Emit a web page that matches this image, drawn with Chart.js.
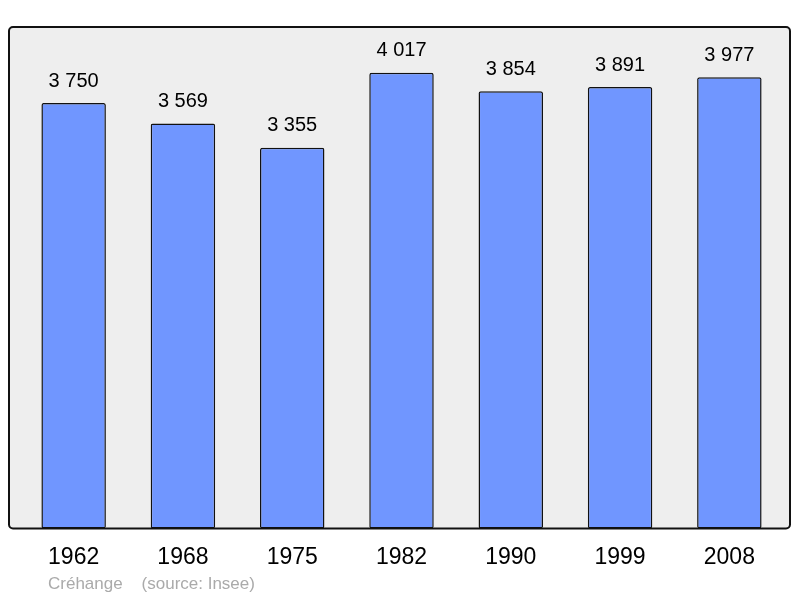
<!DOCTYPE html>
<html>
<head>
<meta charset="utf-8">
<script src="https://cdn.jsdelivr.net/npm/chart.js@4/dist/chart.umd.min.js"></script>
<style>
  html, body { margin: 0; padding: 0; background: #ffffff; }
  #wrap { width: 800px; height: 598px; }
</style>
</head>
<body>
<div id="wrap"><canvas id="popChart" width="800" height="598"></canvas></div>
<script>
// Population data (source: Insee)
const years = ['1962', '1968', '1975', '1982', '1990', '1999', '2008'];
const population = [3750, 3569, 3355, 4017, 3854, 3891, 3977];
const yMax = 4420;
const footerText = 'Créhange    (source: Insee)';

function formatNumber(n) {
    return String(n).replace(/\B(?=(\d{3})+(?!\d))/g, ' ');
}

// Gray rounded frame behind the bars
const framePlugin = {
    id: 'frame',
    beforeDatasetsDraw(chart) {
        const { ctx, chartArea } = chart;
        const x = chartArea.left - 10, y = chartArea.top;
        const w = chartArea.right - chartArea.left + 16, h = chartArea.bottom - chartArea.top;
        ctx.save();
        ctx.beginPath();
        ctx.roundRect(x, y, w, h, 4);
        ctx.fillStyle = '#eeeeee';
        ctx.fill();
        ctx.restore();
    },
    afterDatasetsDraw(chart) {
        const { ctx, chartArea } = chart;
        const x = chartArea.left - 10, y = chartArea.top;
        const w = chartArea.right - chartArea.left + 16, h = chartArea.bottom - chartArea.top;
        ctx.save();
        ctx.beginPath();
        ctx.roundRect(x, y, w, h, 4);
        ctx.lineWidth = 2;
        ctx.strokeStyle = '#111111';
        ctx.stroke();

        // value labels above bars
        const meta = chart.getDatasetMeta(0);
        ctx.font = '20px "Liberation Sans", Arial, sans-serif';
        ctx.fillStyle = '#000000';
        ctx.textAlign = 'center';
        ctx.textBaseline = 'middle';
        meta.data.forEach((bar, i) => {
            ctx.fillText(formatNumber(population[i]), bar.x, bar.y - 22);
        });

        // footer
        ctx.font = '17px "Liberation Sans", Arial, sans-serif';
        ctx.fillStyle = '#aaaaaa';
        ctx.textAlign = 'left';
        ctx.fillText(footerText, chartArea.left + 29, chartArea.bottom + 56);
        ctx.restore();
    }
};

function initPopChart() {
    const ctx = document.getElementById('popChart').getContext('2d');
    new Chart(ctx, {
        type: 'bar',
        data: {
            labels: years,
            datasets: [{
                data: population,
                backgroundColor: '#7096ff',
                borderColor: '#111111',
                borderWidth: 1.5,
                borderRadius: 2,
                borderSkipped: false,
                barPercentage: 0.59,
                categoryPercentage: 1.0
            }]
        },
        options: {
            responsive: false,
            animation: false,
            layout: { padding: { left: 19, right: 16, top: 27, bottom: 20 } },
            plugins: {
                legend: { display: false },
                tooltip: { enabled: false }
            },
            scales: {
                x: {
                    grid: { display: false },
                    border: { display: false },
                    ticks: {
                        color: '#000000',
                        padding: 7,
                        font: { size: 23, family: '"Liberation Sans", Arial, sans-serif' }
                    }
                },
                y: {
                    display: false,
                    min: 0,
                    max: yMax
                }
            }
        },
        plugins: [framePlugin]
    });
}

document.addEventListener('DOMContentLoaded', function() {
    initPopChart();
});
</script>
</body>
</html>
